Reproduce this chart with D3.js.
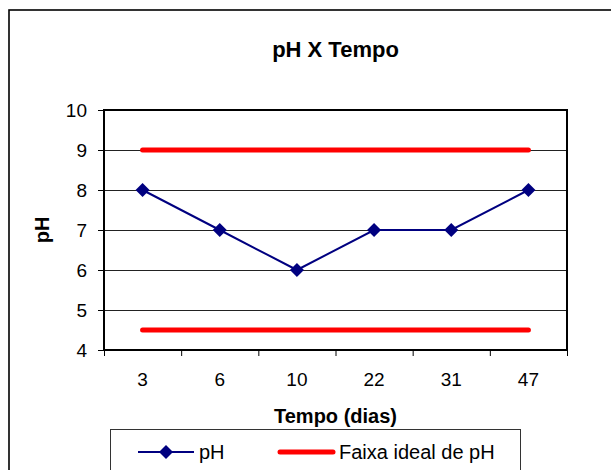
<!DOCTYPE html>
<html>
<head>
<meta charset="utf-8">
<script src="https://cdn.jsdelivr.net/npm/d3@7"></script>
<style>
  body { margin: 0; background: #fff; }
  svg { display: block; font-family: "Liberation Sans", Arial, sans-serif; }
</style>
</head>
<body>
<div id="chart"></div>
<script>
// chart data
const dias = ["3", "6", "10", "22", "31", "47"];
const phValues = [8, 7, 6, 7, 7, 8];
const faixaMax = [9, 9, 9, 9, 9, 9];
const faixaMin = [4.5, 4.5, 4.5, 4.5, 4.5, 4.5];
const yTicks = [4, 5, 6, 7, 8, 9, 10];

const width = 611, height = 470;
const plot = { left: 104, right: 567, top: 110, bottom: 350 };

const svg = d3.select("#chart").append("svg")
  .attr("width", width)
  .attr("height", height);

// outer chart border (runs off the right / bottom edge)
svg.append("rect")
  .attr("x", 9).attr("y", 10)
  .attr("width", 640).attr("height", 500)
  .attr("fill", "#fff")
  .attr("stroke", "#000")
  .attr("stroke-width", 1.6);

const x = d3.scaleBand().domain(dias).range([plot.left, plot.right]).padding(0);
const xEdge = d3.scaleLinear().domain([0, dias.length]).range([plot.left, plot.right]);
const y = d3.scaleLinear().domain([4, 10]).range([plot.bottom, plot.top]);
const cx = d => x(d) + x.bandwidth() / 2;

// gridlines
svg.append("g")
  .selectAll("line")
  .data(yTicks.filter(t => t > 4 && t < 10))
  .enter().append("line")
  .attr("x1", plot.left).attr("x2", plot.right)
  .attr("y1", d => Math.round(y(d)) + 0.5)
  .attr("y2", d => Math.round(y(d)) + 0.5)
  .attr("stroke", "#222")
  .attr("stroke-width", 1);

// y axis
const yAxis = svg.append("g")
  .attr("transform", `translate(${plot.left},0)`)
  .call(d3.axisLeft(y).tickValues(yTicks).tickFormat(d3.format("d"))
    .tickSize(6).tickPadding(11).tickSizeOuter(0));
yAxis.select(".domain").remove();
yAxis.selectAll(".tick line").attr("stroke", "#000");
yAxis.selectAll("text").attr("font-size", 19).attr("fill", "#000")
  .attr("font-family", "Liberation Sans, Arial, sans-serif");

// x axis tick marks at category edges
const xTickAxis = svg.append("g")
  .attr("transform", `translate(0,${plot.bottom})`)
  .call(d3.axisBottom(xEdge).ticks(dias.length).tickSize(6).tickFormat("").tickSizeOuter(0));
xTickAxis.select(".domain").remove();
xTickAxis.selectAll(".tick line").attr("stroke", "#000");

// x axis labels at category centres
const xLabelAxis = svg.append("g")
  .attr("transform", `translate(0,${plot.bottom})`)
  .call(d3.axisBottom(x).tickSize(0).tickPadding(23));
xLabelAxis.select(".domain").remove();
xLabelAxis.selectAll("text").attr("font-size", 19).attr("fill", "#000")
  .attr("font-family", "Liberation Sans, Arial, sans-serif");

// plot border
svg.append("rect")
  .attr("x", plot.left).attr("y", plot.top)
  .attr("width", plot.right - plot.left)
  .attr("height", plot.bottom - plot.top)
  .attr("fill", "none")
  .attr("stroke", "#000")
  .attr("stroke-width", 2);

// ideal range lines
const faixaLine = d3.line().x((d, i) => cx(dias[i])).y(d => y(d));
[faixaMax, faixaMin].forEach(serie => {
  svg.append("path")
    .datum(serie)
    .attr("d", faixaLine)
    .attr("fill", "none")
    .attr("stroke", "#ff0000")
    .attr("stroke-width", 5)
    .attr("stroke-linecap", "round");
});

// pH series
const phLine = d3.line().x((d, i) => cx(dias[i])).y(d => y(d));
svg.append("path")
  .datum(phValues)
  .attr("d", phLine)
  .attr("fill", "none")
  .attr("stroke", "#000080")
  .attr("stroke-width", 2);

const diamond = d3.symbol().type(d3.symbolDiamond2).size(125);
svg.append("g")
  .selectAll("path")
  .data(phValues)
  .enter().append("path")
  .attr("d", diamond)
  .attr("transform", (d, i) => `translate(${cx(dias[i])},${y(d)})`)
  .attr("fill", "#000080");

// titles
svg.append("text")
  .attr("x", (plot.left + plot.right) / 2)
  .attr("y", 57)
  .attr("text-anchor", "middle")
  .attr("font-size", 22)
  .attr("font-weight", "bold")
  .text("pH X Tempo");

svg.append("text")
  .attr("x", (plot.left + plot.right) / 2)
  .attr("y", 423)
  .attr("text-anchor", "middle")
  .attr("font-size", 20)
  .attr("font-weight", "bold")
  .text("Tempo (dias)");

svg.append("text")
  .attr("transform", `translate(49,${(plot.top + plot.bottom) / 2}) rotate(-90)`)
  .attr("text-anchor", "middle")
  .attr("font-size", 20)
  .attr("font-weight", "bold")
  .text("pH");

// legend
const legend = svg.append("g");
legend.append("rect")
  .attr("x", 110.5).attr("y", 429.5)
  .attr("width", 410).attr("height", 60)
  .attr("fill", "#fff")
  .attr("stroke", "#333")
  .attr("stroke-width", 1);

legend.append("line")
  .attr("x1", 138).attr("x2", 194)
  .attr("y1", 452).attr("y2", 452)
  .attr("stroke", "#000080").attr("stroke-width", 2);
legend.append("path")
  .attr("d", diamond)
  .attr("transform", "translate(166,452)")
  .attr("fill", "#000080");
legend.append("text")
  .attr("x", 199).attr("y", 459)
  .attr("font-size", 20)
  .text("pH");

legend.append("line")
  .attr("x1", 280).attr("x2", 333)
  .attr("y1", 452).attr("y2", 452)
  .attr("stroke", "#ff0000").attr("stroke-width", 5)
  .attr("stroke-linecap", "round");
legend.append("text")
  .attr("x", 339).attr("y", 459)
  .attr("font-size", 20)
  .text("Faixa ideal de pH");
</script>
</body>
</html>
